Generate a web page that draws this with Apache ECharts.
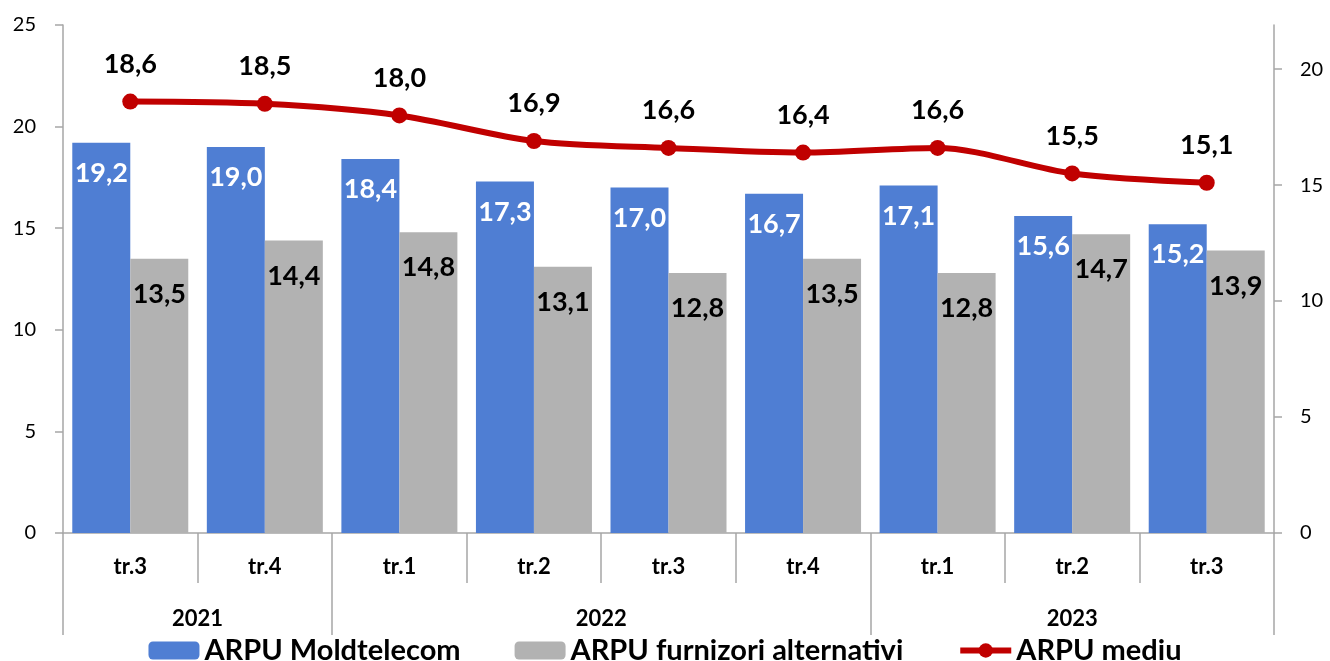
<!DOCTYPE html>
<html>
<head>
<meta charset="utf-8">
<script src="https://cdn.jsdelivr.net/npm/echarts@6/dist/echarts.min.js"></script>
<style>
  html, body { margin: 0; padding: 0; background: #fff; }
  #chart { width: 1330px; height: 661px; }
</style>
</head>
<body>
<div id="chart"></div>
<script>
var quarters = ['tr.3', 'tr.4', 'tr.1', 'tr.2', 'tr.3', 'tr.4', 'tr.1', 'tr.2', 'tr.3'];
var years = ['2021', '2022', '2023'];
var yearSpans = [2, 4, 3];
var arpuMoldtelecom = [19.2, 19.0, 18.4, 17.3, 17.0, 16.7, 17.1, 15.6, 15.2];
var arpuAlternativi = [13.5, 14.4, 14.8, 13.1, 12.8, 13.5, 12.8, 14.7, 13.9];
var arpuMediu = [18.6, 18.5, 18.0, 16.9, 16.6, 16.4, 16.6, 15.5, 15.1];
var leftTicks = [0, 5, 10, 15, 20, 25];
var rightTicks = [0, 5, 10, 15, 20];

// limitele si centrele grupelor de ani pe axa a doua
var yearBounds = [0];
var yearCenters = [];
for (var i = 0; i < yearSpans.length; i++) {
    var start = yearBounds[yearBounds.length - 1];
    yearCenters.push(start + yearSpans[i] / 2);
    yearBounds.push(start + yearSpans[i]);
}

var axisGray = '#a6a6a6';
var fontFam = 'Lato, "Open Sans", sans-serif';

function fmt(v) {
    return v.toFixed(1).replace('.', ',');
}

var chartDom = document.getElementById('chart');
var myChart = echarts.init(chartDom);
var option = {
    animation: false,
    textStyle: { fontFamily: fontFam },
    grid: {
        left: 63,
        right: 56,
        top: 25,
        bottom: 128,
        containLabel: false
    },
    legend: {
        top: 631,
        left: 'center',
        itemWidth: 51,
        itemHeight: 18,
        itemGap: 54,
        textStyle: {
            fontFamily: fontFam,
            fontSize: 29,
            fontWeight: 'bold',
            color: '#000'
        },
        data: [
            'ARPU Moldtelecom',
            'ARPU furnizori alternativi',
            { name: 'ARPU mediu', lineStyle: { width: 6 } }
        ]
    },
    xAxis: [
        {
            type: 'category',
            data: quarters,
            boundaryGap: true,
            axisLine: { show: true, lineStyle: { color: axisGray, width: 1.5 } },
            axisTick: { show: true, length: 50, lineStyle: { color: axisGray, width: 1.5 } },
            axisLabel: {
                margin: 23,
                fontSize: 22,
                fontWeight: 'bold',
                color: '#000'
            }
        },
        {
            type: 'value',
            position: 'bottom',
            min: 0,
            max: quarters.length,
            splitLine: { show: false },
            axisLine: { show: false },
            axisTick: {
                show: true,
                length: 102,
                customValues: yearBounds,
                lineStyle: { color: axisGray, width: 1.5 }
            },
            axisLabel: {
                margin: 75,
                fontSize: 22,
                fontWeight: 'bold',
                color: '#000',
                customValues: yearCenters,
                formatter: function (v) {
                    var idx = yearCenters.indexOf(v);
                    return idx >= 0 ? years[idx] : '';
                }
            }
        }
    ],
    yAxis: [
        {
            type: 'value',
            min: 0,
            max: 25,
            interval: 5,
            splitLine: { show: false },
            axisLine: { show: true, lineStyle: { color: axisGray, width: 1.5 } },
            axisTick: { show: true, length: 8, lineStyle: { color: axisGray, width: 1.5 } },
            axisLabel: {
                margin: 27,
                fontSize: 20,
                color: '#000',
                customValues: leftTicks
            }
        },
        {
            type: 'value',
            min: 0,
            max: 21.9,
            position: 'right',
            splitLine: { show: false },
            axisLine: { show: true, lineStyle: { color: axisGray, width: 1.5 } },
            axisTick: { show: true, length: 8, customValues: rightTicks, lineStyle: { color: axisGray, width: 1.5 } },
            axisLabel: {
                margin: 26,
                fontSize: 20,
                color: '#000',
                customValues: rightTicks
            }
        }
    ],
    series: [
        {
            name: 'ARPU Moldtelecom',
            type: 'bar',
            data: arpuMoldtelecom,
            barWidth: 58,
            barGap: '0%',
            itemStyle: { color: '#4f7ed3' },
            label: {
                show: true,
                position: 'insideTop',
                distance: 17,
                fontSize: 27,
                fontWeight: 'bold',
                color: '#fff',
                formatter: function (p) { return fmt(p.value); }
            }
        },
        {
            name: 'ARPU furnizori alternativi',
            type: 'bar',
            data: arpuAlternativi,
            barWidth: 58,
            barGap: '0%',
            itemStyle: { color: '#b2b2b2' },
            label: {
                show: true,
                position: 'insideTop',
                distance: 22,
                fontSize: 27,
                fontWeight: 'bold',
                color: '#000',
                formatter: function (p) { return fmt(p.value); }
            }
        },
        {
            name: 'ARPU mediu',
            type: 'line',
            yAxisIndex: 1,
            data: arpuMediu,
            smooth: 0.3,
            symbol: 'circle',
            symbolSize: 16,
            lineStyle: { color: '#c00000', width: 6 },
            itemStyle: { color: '#c00000' },
            label: {
                show: true,
                position: 'top',
                distance: 16,
                fontSize: 27,
                fontWeight: 'bold',
                color: '#000',
                formatter: function (p) { return fmt(p.value); }
            }
        }
    ]
};

// afisarea graficului
myChart.setOption(option);
</script>
</body>
</html>
